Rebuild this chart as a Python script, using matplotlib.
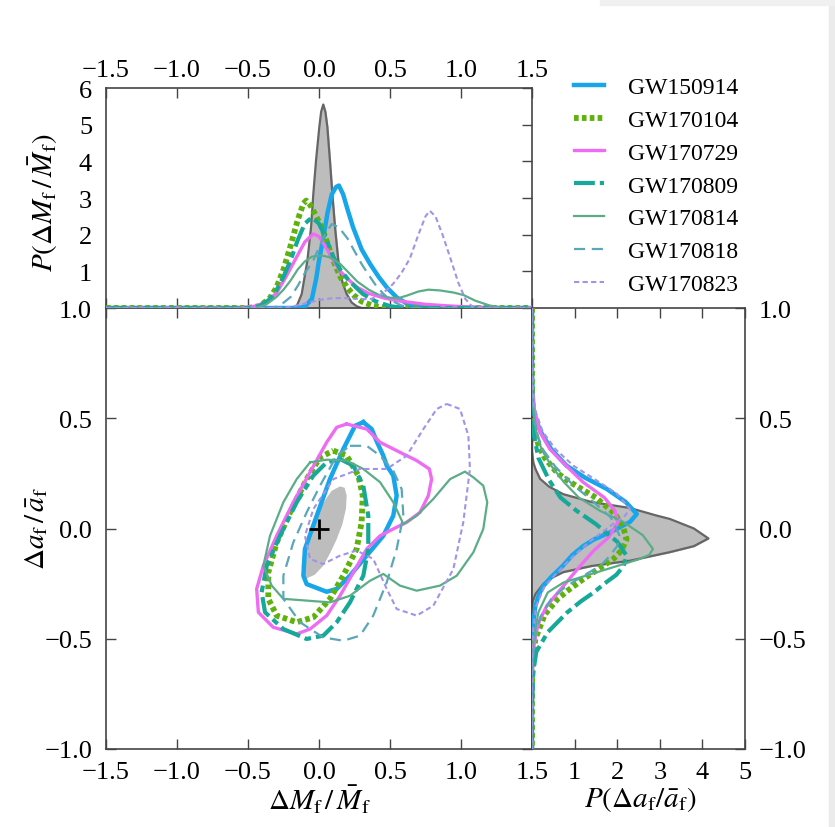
import matplotlib
matplotlib.use("Agg")
import matplotlib.pyplot as plt
import numpy as np

plt.rcParams['font.family'] = ['Liberation Serif', 'DejaVu Serif']
plt.rcParams['mathtext.fontset'] = 'stix'

# ---- data ------------------------------------------------------------------
events = ["GW150914", "GW170104", "GW170729", "GW170809",
          "GW170814", "GW170818", "GW170823"]

# top marginal: P(dM/M) vs dM/M
top_gray_x = [-1.5, -0.2, -0.157, -0.122, -0.082, -0.056, -0.04, -0.021, 0.002, 0.015, 0.03, 0.045, 0.059, 0.077, 0.094, 0.113, 0.136, 0.165, 0.195, 0.23, 0.265, 0.3, 1.5]
top_gray_y = [0, 0, 0.05, 0.38, 1.29, 2.2, 3.11, 4.02, 4.93, 5.35, 5.55, 5.35, 4.93, 4.02, 3.11, 2.2, 1.29, 0.7, 0.38, 0.15, 0.05, 0, 0]

top_150914_x = [-1.5, -0.15, -0.1, -0.05, -0.02, 0.0, 0.03, 0.06, 0.09, 0.12, 0.14, 0.17, 0.2, 0.24, 0.3, 0.36, 0.42, 0.48, 0.55, 0.62, 0.7, 0.8, 1.5]
top_150914_y = [0, 0, 0.03, 0.25, 0.8, 1.3, 1.9, 2.6, 3.1, 3.3, 3.34, 3.1, 2.7, 2.2, 1.6, 1.2, 0.85, 0.55, 0.28, 0.12, 0.04, 0, 0]

top_170104_x = [-1.5, -0.5, -0.42, -0.35, -0.3, -0.25, -0.2, -0.15, -0.11, -0.09, -0.06, -0.02, 0.02, 0.06, 0.1, 0.15, 0.2, 0.25, 0.3, 0.38, 0.48, 1.5]
top_170104_y = [0, 0, 0.05, 0.25, 0.55, 1.05, 1.7, 2.4, 2.85, 2.93, 2.8, 2.5, 2.2, 1.75, 1.3, 0.85, 0.55, 0.33, 0.18, 0.06, 0, 0]

top_170729_x = [-1.5, -0.55, -0.45, -0.38, -0.3, -0.24, -0.17, -0.1, -0.04, 0.0, 0.05, 0.1, 0.15, 0.2, 0.27, 0.35, 0.45, 0.55, 0.65, 0.75, 0.9, 1.05, 1.2, 1.3, 1.5]
top_170729_y = [0, 0, 0.05, 0.15, 0.4, 0.8, 1.3, 1.8, 2.02, 1.95, 1.65, 1.3, 1.0, 0.8, 0.56, 0.4, 0.28, 0.2, 0.15, 0.1, 0.06, 0.03, 0.01, 0, 0]

top_170809_x = [-1.5, -0.5, -0.42, -0.35, -0.3, -0.25, -0.2, -0.15, -0.1, -0.05, 0.0, 0.05, 0.1, 0.15, 0.2, 0.25, 0.31, 0.4, 0.5, 0.6, 1.5]
top_170809_y = [0, 0, 0.05, 0.22, 0.48, 0.85, 1.3, 1.85, 2.3, 2.47, 2.3, 1.9, 1.4, 1.05, 0.8, 0.6, 0.38, 0.18, 0.05, 0, 0]

top_170814_x = [-1.5, -0.45, -0.37, -0.3, -0.25, -0.2, -0.15, -0.1, -0.05, 0.02, 0.08, 0.15, 0.2, 0.27, 0.35, 0.42, 0.5, 0.56, 0.62, 0.7, 0.77, 0.85, 0.95, 1.02, 1.1, 1.2, 1.3, 1.5]
top_170814_y = [0, 0, 0.1, 0.3, 0.5, 0.75, 1.05, 1.27, 1.4, 1.43, 1.38, 1.2, 1.0, 0.72, 0.5, 0.36, 0.28, 0.27, 0.34, 0.45, 0.5, 0.48, 0.42, 0.35, 0.2, 0.07, 0, 0]

top_170818_x = [-1.5, -0.35, -0.28, -0.2, -0.15, -0.1, -0.04, 0.0, 0.04, 0.09, 0.14, 0.2, 0.25, 0.3, 0.35, 0.4, 0.45, 0.5, 0.58, 0.65, 1.5]
top_170818_y = [0, 0, 0.05, 0.3, 0.6, 0.95, 1.3, 1.65, 2.0, 2.29, 2.2, 1.9, 1.55, 1.2, 0.9, 0.62, 0.4, 0.22, 0.07, 0, 0]

top_170823_x = [-1.5, -0.3, -0.2, -0.1, 0.0, 0.1, 0.2, 0.3, 0.37, 0.45, 0.52, 0.58, 0.64, 0.7, 0.75, 0.78, 0.82, 0.87, 0.93, 0.98, 1.03, 1.08, 1.12, 1.5]
top_170823_y = [0, 0, 0.03, 0.12, 0.22, 0.27, 0.27, 0.24, 0.25, 0.4, 0.65, 0.95, 1.35, 2.0, 2.5, 2.65, 2.5, 2.0, 1.3, 0.7, 0.25, 0.03, 0, 0]

# right marginal: da/a (vertical) and P(da/a) (horizontal)
right_gray_y = [1.0, 0.35, 0.3, 0.27, 0.225, 0.19, 0.156, 0.12, 0.093, 0.06, 0.043, 0.0, -0.045, -0.08, -0.107, -0.146, -0.17, -0.198, -0.225, -0.25, -0.297, -0.33, -0.36, -1.0]
right_gray_p = [0, 0, 0.03, 0.08, 0.19, 0.4, 0.73, 1.4, 2.3, 2.9, 3.24, 3.8, 4.14, 3.8, 3.24, 2.3, 1.4, 0.73, 0.45, 0.27, 0.08, 0.02, 0, 0]

right_150914_y = [1.0, 0.7, 0.55, 0.5, 0.44, 0.36, 0.285, 0.23, 0.18, 0.12, 0.066, 0.03, -0.016, -0.05, -0.08, -0.12, -0.17, -0.22, -0.26, -0.3, -0.35, -0.45, -0.6, -1.0]
right_150914_p = [0, 0, 0.03, 0.08, 0.2, 0.45, 0.81, 1.25, 1.75, 2.2, 2.46, 2.3, 1.85, 1.45, 1.2, 0.95, 0.72, 0.45, 0.27, 0.16, 0.08, 0.02, 0, 0]

right_170104_y = [1.0, 0.6, 0.45, 0.38, 0.32, 0.25, 0.21, 0.14, 0.066, 0.0, -0.048, -0.1, -0.14, -0.185, -0.23, -0.28, -0.32, -0.39, -0.5, -0.6, -0.7, -1.0]
right_170104_p = [0, 0, 0.05, 0.15, 0.3, 0.6, 0.9, 1.5, 1.95, 2.15, 2.22, 2.1, 1.9, 1.55, 1.2, 0.85, 0.6, 0.3, 0.08, 0.02, 0, 0]

right_170729_y = [1.0, 0.65, 0.55, 0.44, 0.36, 0.285, 0.21, 0.14, 0.08, 0.03, -0.04, -0.1, -0.17, -0.26, -0.35, -0.42, -0.47, -0.55, -0.7, -1.0]
right_170729_p = [0, 0, 0.04, 0.18, 0.42, 0.8, 1.2, 1.7, 1.95, 2.02, 1.8, 1.45, 1.13, 0.74, 0.35, 0.17, 0.1, 0.03, 0, 0]

right_170809_y = [1.0, 0.55, 0.42, 0.32, 0.22, 0.14, 0.08, 0.02, -0.06, -0.123, -0.17, -0.21, -0.25, -0.29, -0.33, -0.38, -0.47, -0.56, -0.65, -0.8, -1.0]
right_170809_p = [0, 0, 0.05, 0.15, 0.4, 0.67, 1.05, 1.5, 2.0, 2.22, 2.15, 1.98, 1.7, 1.45, 1.15, 0.83, 0.37, 0.1, 0.03, 0, 0]

right_170814_y = [1.0, 0.6, 0.44, 0.36, 0.285, 0.21, 0.14, 0.08, 0.03, -0.03, -0.093, -0.12, -0.14, -0.17, -0.2, -0.245, -0.29, -0.38, -0.5, -0.65, -1.0]
right_170814_p = [0, 0, 0.1, 0.22, 0.45, 0.75, 1.1, 1.6, 2.14, 2.6, 2.84, 2.75, 2.5, 2.0, 1.5, 0.74, 0.37, 0.15, 0.04, 0, 0]

right_170818_y = [1.0, 0.6, 0.45, 0.36, 0.28, 0.2, 0.12, 0.05, -0.03, -0.08, -0.13, -0.17, -0.22, -0.27, -0.32, -0.4, -0.5, -0.65, -1.0]
right_170818_p = [0, 0, 0.08, 0.25, 0.55, 0.95, 1.45, 1.85, 2.05, 2.0, 1.8, 1.6, 1.15, 0.75, 0.45, 0.2, 0.06, 0, 0]

right_170823_y = [1.0, 0.7, 0.55, 0.44, 0.36, 0.285, 0.22, 0.16, 0.088, 0.05, 0.02, -0.06, -0.12, -0.17, -0.26, -0.35, -0.45, -0.55, -1.0]
right_170823_p = [0, 0, 0.05, 0.25, 0.55, 0.97, 1.5, 1.98, 2.3, 2.15, 1.9, 1.35, 1.0, 0.74, 0.3, 0.1, 0.03, 0, 0]

# joint 90% credible regions (dM/M, da/a)
gray_region_x = [0.148, 0.18, 0.195, 0.19, 0.165, 0.125, 0.08, 0.03, -0.03, -0.087, -0.115, -0.122, -0.11, -0.087, -0.04, 0.007, 0.05, 0.089]
gray_region_y = [0.191, 0.185, 0.15, 0.09, 0.02, -0.048, -0.11, -0.169, -0.21, -0.226, -0.21, -0.17, -0.1, -0.048, 0.03, 0.088, 0.135, 0.171]

c150914_x = [0.312, 0.371, 0.41, 0.453, 0.477, 0.523, 0.547, 0.523, 0.453, 0.336, 0.218, 0.125, 0.054, -0.087, -0.11, -0.099, -0.016, 0.077, 0.171, 0.254]
c150914_y = [0.482, 0.451, 0.39, 0.33, 0.285, 0.24, 0.149, 0.058, -0.033, -0.123, -0.214, -0.274, -0.287, -0.252, -0.214, -0.093, 0.058, 0.224, 0.36, 0.466]

c170104_x = [0.101, 0.195, 0.277, 0.308, 0.3, 0.265, 0.171, 0.077, -0.04, -0.157, -0.298, -0.357, -0.357, -0.298, -0.204, -0.087, 0.007]
c170104_y = [0.353, 0.33, 0.24, 0.149, 0.028, -0.093, -0.214, -0.319, -0.403, -0.425, -0.395, -0.319, -0.199, -0.063, 0.073, 0.224, 0.323]

c170729_x = [0.195, 0.336, 0.43, 0.547, 0.688, 0.777, 0.793, 0.77, 0.711, 0.617, 0.523, 0.43, 0.336, 0.242, 0.148, 0.054, -0.063, -0.157, -0.322, -0.427, -0.439, -0.392, -0.298, -0.181, -0.063, 0.054, 0.125]
c170729_y = [0.474, 0.451, 0.391, 0.353, 0.308, 0.27, 0.224, 0.149, 0.073, 0.028, -0.002, -0.033, -0.093, -0.199, -0.305, -0.395, -0.456, -0.478, -0.448, -0.38, -0.274, -0.169, -0.033, 0.119, 0.255, 0.391, 0.459]

c170809_x = [0.148, 0.242, 0.312, 0.347, 0.347, 0.312, 0.218, 0.125, 0.03, -0.087, -0.251, -0.38, -0.404, -0.368, -0.275, -0.157, -0.04, 0.054]
c170809_y = [0.315, 0.285, 0.194, 0.058, -0.093, -0.214, -0.335, -0.425, -0.486, -0.501, -0.456, -0.38, -0.289, -0.169, -0.033, 0.119, 0.24, 0.3]

c170814_x = [-0.063, 0.054, 0.195, 0.312, 0.43, 0.523, 0.594, 0.688, 0.805, 0.923, 1.028, 1.087, 1.157, 1.185, 1.157, 1.087, 0.97, 0.852, 0.688, 0.57, 0.453, 0.359, 0.218, 0.077, -0.087, -0.251, -0.333, -0.392, -0.345, -0.251, -0.157]
c170814_y = [0.3, 0.312, 0.308, 0.27, 0.21, 0.119, 0.02, 0.058, 0.134, 0.224, 0.258, 0.232, 0.194, 0.119, -0.002, -0.108, -0.214, -0.259, -0.282, -0.259, -0.206, -0.237, -0.305, -0.335, -0.327, -0.319, -0.259, -0.169, -0.033, 0.119, 0.224]

c170818_x = [0.218, 0.336, 0.43, 0.523, 0.582, 0.594, 0.547, 0.477, 0.382, 0.289, 0.171, 0.03, -0.134, -0.251, -0.251, -0.181, -0.087, 0.007, 0.125]
c170818_y = [0.375, 0.375, 0.33, 0.262, 0.179, 0.058, -0.093, -0.244, -0.395, -0.486, -0.509, -0.494, -0.425, -0.319, -0.214, -0.063, 0.073, 0.194, 0.33]

c170823_x = [0.899, 0.993, 1.052, 1.063, 1.016, 0.946, 0.805, 0.688, 0.547, 0.477, 0.382, 0.265, 0.148, 0.03, -0.063, -0.099, -0.04, 0.101, 0.289, 0.477, 0.617, 0.735, 0.829]
c170823_y = [0.565, 0.542, 0.421, 0.27, 0.028, -0.184, -0.35, -0.395, -0.365, -0.274, -0.138, -0.1, -0.123, -0.161, -0.138, -0.033, 0.088, 0.224, 0.27, 0.27, 0.33, 0.451, 0.542]

# ---- styling --------------------------------------------------------------
colors = ["#18a6ea", "#5fb10c", "#ee6cf2", "#16a899", "#5bad88", "#5aa7b8", "#a392ea"]
widths = [3.2, 4.2, 2.4, 3.0, 1.6, 1.6, 1.5]
styles = ["-", (0, (0.8, 0.55)), "-", (0, (5, 1.2, 1.6, 1.2)), "-", (0, (5, 3)), (0, (2.5, 1.6))]

top_x = [top_150914_x, top_170104_x, top_170729_x, top_170809_x, top_170814_x, top_170818_x, top_170823_x]
top_y = [top_150914_y, top_170104_y, top_170729_y, top_170809_y, top_170814_y, top_170818_y, top_170823_y]
right_y = [right_150914_y, right_170104_y, right_170729_y, right_170809_y, right_170814_y, right_170818_y, right_170823_y]
right_p = [right_150914_p, right_170104_p, right_170729_p, right_170809_p, right_170814_p, right_170818_p, right_170823_p]
cont_x = [c150914_x, c170104_x, c170729_x, c170809_x, c170814_x, c170818_x, c170823_x]
cont_y = [c150914_y, c170104_y, c170729_y, c170809_y, c170814_y, c170818_y, c170823_y]

W, H = 835, 828
fig = plt.figure(figsize=(W / 100, H / 100), dpi=100)
# light grey page edge on the right and top
fig.patches.append(plt.Rectangle((829 / W, 0), 1, 1, transform=fig.transFigure,
                                 color="#ebebeb", zorder=-10))
fig.patches.append(plt.Rectangle((600 / W, 1 - 6 / H), 1, 1, transform=fig.transFigure,
                                 color="#f0f0f0", zorder=-10))

ax = fig.add_axes([106 / W, 78 / H, 426 / W, 441 / H])
axt = fig.add_axes([106 / W, 519 / H, 426 / W, 220 / H])
axr = fig.add_axes([532 / W, 78 / H, 213 / W, 441 / H])

spine_c = "#444444"
for a in (ax, axt, axr):
    for s in a.spines.values():
        s.set_color(spine_c)
        s.set_linewidth(1.2)
    a.tick_params(direction="in", length=7, width=1.0, color=spine_c,
                  labelsize=19, pad=10)

# top panel
axt.fill_between(top_gray_x, top_gray_y, color="#bdbdbd", zorder=1)
axt.plot(top_gray_x, top_gray_y, color="#666666", lw=1.6, zorder=2)
for i in range(len(events)):
    axt.plot(top_x[i], top_y[i], color=colors[i], lw=widths[i], ls=styles[i],
             label=events[i], zorder=3)
axt.set_xlim(-1.5, 1.5)
axt.set_ylim(0, 6)
axt.set_yticks([1, 2, 3, 4, 5, 6])
axt.set_xticks([-1.5, -1.0, -0.5, 0.0, 0.5, 1.0, 1.5])
axt.set_xticklabels(["\u22121.5", "\u22121.0", "\u22120.5", "0.0", "0.5", "1.0", "1.5"])
axt.tick_params(top=True, bottom=True, labeltop=True, labelbottom=False,
                left=False, right=True, labelleft=True, labelright=False)
axt.tick_params(axis="x", pad=5)

# main panel
ax.fill(gray_region_x, gray_region_y, color="#bdbdbd", lw=0, zorder=1)
for i in range(len(events)):
    ax.plot(cont_x[i] + cont_x[i][:1], cont_y[i] + cont_y[i][:1], color=colors[i],
            lw=widths[i], ls=styles[i], zorder=3)
ax.plot([0], [0], marker="+", color="k", ms=14, mew=2, zorder=5)
ax.set_xlim(-1.5, 1.5)
ax.set_ylim(-1, 1)
ax.set_xticks([-1.5, -1.0, -0.5, 0.0, 0.5, 1.0, 1.5])
ax.set_xticklabels(["\u22121.5", "\u22121.0", "\u22120.5", "0.0", "0.5", "1.0", "1.5"])
ax.set_yticks([-1.0, -0.5, 0.0, 0.5, 1.0])
ax.set_yticklabels(["\u22121.0", "\u22120.5", "0.0", "0.5", "1.0"])
ax.tick_params(top=True, right=True)
ax.tick_params(axis="x", pad=9)

# right panel
axr.fill_betweenx(right_gray_y, right_gray_p, color="#bdbdbd", zorder=1)
axr.plot(right_gray_p, right_gray_y, color="#666666", lw=1.6, zorder=2)
for i in range(len(events)):
    axr.plot(right_p[i], right_y[i], color=colors[i], lw=widths[i], ls=styles[i], zorder=3)
axr.set_xlim(0, 5)
axr.set_ylim(-1, 1)
axr.set_xticks([1, 2, 3, 4, 5])
axr.set_yticks([-1.0, -0.5, 0.0, 0.5, 1.0])
axr.set_yticklabels(["\u22121.0", "\u22120.5", "0.0", "0.5", "1.0"])
axr.tick_params(top=True, bottom=True, left=False, right=True,
                labelleft=False, labelright=True)
axr.tick_params(axis="x", pad=9)

# labels
fig.text(43 / W, 1 - 202 / H, r"$P(\Delta M_\mathrm{f}\,/\,\bar{M}_\mathrm{f})$",
         rotation=90, ha="center", va="center", fontsize=21)
fig.text(37 / W, 1 - 528 / H, r"$\Delta a_\mathrm{f}\,/\,\bar{a}_\mathrm{f}$",
         rotation=90, ha="center", va="center", fontsize=21)
fig.text(320 / W, 1 - 800 / H, r"$\Delta M_\mathrm{f}\,/\,\bar{M}_\mathrm{f}$",
         ha="center", va="center", fontsize=21)
fig.text(640 / W, 1 - 800 / H, r"$P(\Delta a_\mathrm{f}/\bar{a}_\mathrm{f})$",
         ha="center", va="center", fontsize=21)

handles, labels = axt.get_legend_handles_labels()
fig.legend(handles, labels, loc="upper left", bbox_to_anchor=(565 / W, 1 - 68 / H),
           frameon=False, fontsize=17, handlelength=1.25, handletextpad=1.0,
           labelspacing=0.48, borderaxespad=0)

fig.savefig("out.png", dpi=100)
